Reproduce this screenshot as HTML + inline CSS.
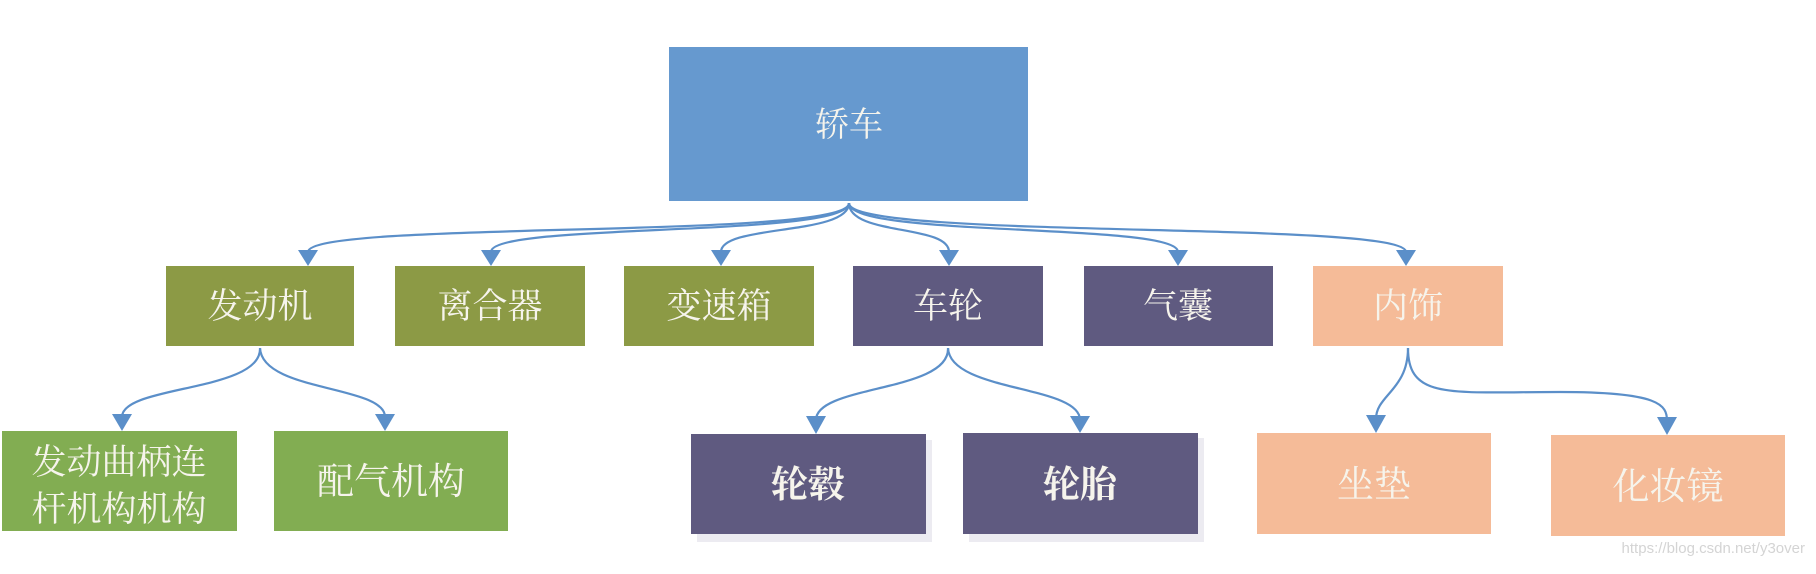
<!DOCTYPE html>
<html><head><meta charset="utf-8">
<style>
html,body{margin:0;padding:0;background:#fff;}
svg{display:block;}
text{font-family:"Liberation Serif","Noto Serif CJK SC","Noto Sans CJK SC",serif;fill:#f6f4ec;}
</style></head>
<body>
<svg width="1816" height="574" viewBox="0 0 1816 574" xmlns="http://www.w3.org/2000/svg">
<defs>
<marker id="ah" viewBox="0 0 10 10" refX="9" refY="5" markerWidth="9" markerHeight="9" markerUnits="userSpaceOnUse" orient="auto"></marker>
</defs>
<!-- root -->
<rect x="669" y="47" width="359" height="154" fill="#6699cf"/>
<text x="849" y="136" font-size="34" text-anchor="middle">轿车</text>

<!-- level 2 -->
<rect x="166" y="266" width="188" height="80" fill="#8c9a45"/>
<text x="260" y="318" font-size="35" text-anchor="middle">发动机</text>
<rect x="395" y="266" width="190" height="80" fill="#8c9a45"/>
<text x="490" y="318" font-size="35" text-anchor="middle">离合器</text>
<rect x="624" y="266" width="190" height="80" fill="#8c9a45"/>
<text x="719" y="318" font-size="35" text-anchor="middle">变速箱</text>
<rect x="853" y="266" width="190" height="80" fill="#5f5a80"/>
<text x="948" y="318" font-size="35" text-anchor="middle">车轮</text>
<rect x="1084" y="266" width="189" height="80" fill="#5f5a80"/>
<text x="1178" y="318" font-size="35" text-anchor="middle">气囊</text>
<rect x="1313" y="266" width="190" height="80" fill="#f5bb98"/>
<text x="1408" y="318" font-size="35" text-anchor="middle">内饰</text>

<!-- level 3 -->
<rect x="2" y="431" width="235" height="100" fill="#82ad52"/>
<text x="119" y="474" font-size="35" text-anchor="middle">发动曲柄连</text>
<text x="119" y="521" font-size="35" text-anchor="middle">杆机构机构</text>
<rect x="274" y="431" width="234" height="100" fill="#82ad52"/>
<text x="391" y="494" font-size="37" text-anchor="middle">配气机构</text>
<rect x="697" y="440" width="235" height="102" fill="#ecebf1"/>
<rect x="691" y="434" width="235" height="100" fill="#5f5a80"/>
<text x="808" y="497" font-size="37" font-weight="bold" text-anchor="middle">轮毂</text>
<rect x="969" y="438" width="235" height="104" fill="#ecebf1"/>
<rect x="963" y="433" width="235" height="101" fill="#5f5a80"/>
<text x="1080" y="497" font-size="37" font-weight="bold" text-anchor="middle">轮胎</text>
<rect x="1257" y="433" width="234" height="101" fill="#f5bb98"/>
<text x="1374" y="497" font-size="37" text-anchor="middle">坐垫</text>
<rect x="1551" y="435" width="234" height="101" fill="#f5bb98"/>
<text x="1668" y="499" font-size="37" text-anchor="middle">化妆镜</text>

<!-- connectors -->
<g fill="none" stroke="#5b8fc9" stroke-width="2.2">
<path d="M849,203 C849,240 310,220 308,252"/>
<path d="M849,203 C849,238 491,222 491,252"/>
<path d="M849,203 C849,236 721,224 721,252"/>
<path d="M849,203 C849,236 949,224 949,252"/>
<path d="M849,203 C849,238 1178,222 1178,252"/>
<path d="M849,203 C849,240 1406,220 1406,252"/>
<path d="M260,348 C262,392 122,385 122,417"/>
<path d="M260,348 C262,392 385,385 385,417"/>
<path d="M948,348 C950,392 816,385 816,420"/>
<path d="M948,348 C950,392 1080,385 1080,420"/>
<path d="M1408,348 C1408,390 1376,395 1376,419"/>
<path d="M1408,348 C1408,400 1450,392 1560,392 C1660,392 1667,405 1667,421"/>
</g>
<g fill="#5b8fc9">
<polygon points="298,250 318,250 308,266"/>
<polygon points="481,250 501,250 491,266"/>
<polygon points="711,250 731,250 721,266"/>
<polygon points="939,250 959,250 949,266"/>
<polygon points="1168,250 1188,250 1178,266"/>
<polygon points="1396,250 1416,250 1406,266"/>
<polygon points="112,414 132,414 122,431"/>
<polygon points="375,414 395,414 385,431"/>
<polygon points="806,416 826,416 816,434"/>
<polygon points="1070,416 1090,416 1080,433"/>
<polygon points="1366,415 1386,415 1376,433"/>
<polygon points="1657,417 1677,417 1667,435"/>
</g>

<text x="1805" y="553" font-size="15" text-anchor="end" style="fill:#d4d4d4;font-family:'Liberation Sans',sans-serif;">https://blog.csdn.net/y3over</text>
</svg>
</body></html>
